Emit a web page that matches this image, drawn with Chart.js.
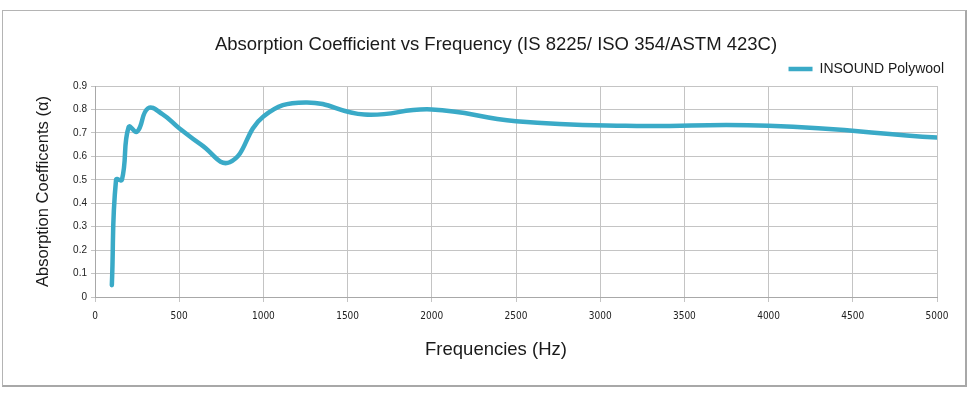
<!DOCTYPE html>
<html>
<head>
<meta charset="utf-8">
<script src="https://cdn.jsdelivr.net/npm/chart.js@4"></script>
<style>
html,body{margin:0;padding:0;background:#fff;}
#wrap{position:relative;width:975px;height:399px;overflow:hidden;}
#frame{position:absolute;left:2px;top:10px;width:965px;height:377px;box-sizing:border-box;border:1px solid #b4b4b4;border-right:2px solid #a8a8a8;border-bottom:2px solid #a8a8a8;}
canvas{position:absolute;left:0;top:0;}
</style>
</head>
<body>
<div id="wrap"><div id="frame"></div><canvas id="c" width="975" height="399"></canvas></div>
<script>
// ---- data ----
const frequencies = [100, 125, 160, 200, 250, 315, 400, 500, 630, 800, 1000, 1250, 1600, 2000, 2500, 3150, 4000, 5000];
const absorption  = [0.05, 0.50, 0.50, 0.725, 0.705, 0.805, 0.78, 0.72, 0.65, 0.575, 0.77, 0.83, 0.778, 0.80, 0.75, 0.73, 0.73, 0.68];
const seriesName = 'INSOUND Polywool';
const xTickValues = [0, 500, 1000, 1500, 2000, 2500, 3000, 3500, 4000, 4500, 5000];
const yTickValues = [0, 0.1, 0.2, 0.3, 0.4, 0.5, 0.6, 0.7, 0.8, 0.9];
const chartTitle = 'Absorption Coefficient vs Frequency (IS 8225/ ISO 354/ASTM 423C)';
const xTitle = 'Frequencies (Hz)';
const yTitle = 'Absorption Coefficents (\u03b1)';

const points = frequencies.map((f, i) => ({x: f, y: absorption[i]}));
const SANS = '"Liberation Sans", Arial, Helvetica, sans-serif';
const NARROW = '"Liberation Sans Narrow", "DejaVu Sans Condensed", "Liberation Sans", sans-serif';
const lineColor = '#3aaac7';
const gridColor = '#c4c4c4';

new Chart(document.getElementById('c'), {
  type: 'line',
  data: {
    datasets: [{
      label: seriesName,
      data: points,
      borderColor: lineColor,
      backgroundColor: lineColor,
      borderWidth: 4.5,
      borderCapStyle: 'round',
      borderJoinStyle: 'round',
      pointRadius: 0,
      pointHoverRadius: 0,
      tension: 0.45,
      fill: false
    }]
  },
  options: {
    responsive: false,
    animation: false,
    devicePixelRatio: 1,
    layout: { padding: { top: 0, right: 0, bottom: 0, left: 17 } },
    plugins: {
      title: {
        display: true,
        text: chartTitle,
        color: '#1a1a1a',
        font: { family: SANS, size: 18.5, weight: 'normal', lineHeight: 1.2 },
        padding: { top: 33.9, bottom: -25.1 }
      },
      subtitle: {
        display: true,
        position: 'bottom',
        text: xTitle,
        color: '#1a1a1a',
        font: { family: SANS, size: 18.5, weight: 'normal', lineHeight: 1.2 },
        padding: { top: 0, bottom: 37.9 }
      },
      legend: {
        display: true,
        position: 'top',
        align: 'end',
        labels: {
          color: '#1a1a1a',
          font: { family: SANS, size: 14 },
          usePointStyle: true,
          pointStyle: 'line',
          pointStyleWidth: 24,
          padding: 31
        }
      },
      tooltip: { enabled: false }
    },
    scales: {
      x: {
        type: 'linear',
        min: 0, max: 5000,
        afterBuildTicks: s => { s.ticks = xTickValues.map(v => ({value: v})); },
        afterFit: s => { s.height = 41.9; s.paddingRight = 38; },
        ticks: {
          color: '#222',
          font: { family: NARROW, size: 10 },
          padding: 8,
          maxRotation: 0,
          callback: v => String(v)
        },
        grid: { color: gridColor, lineWidth: 1, tickLength: 5, drawTicks: true },
        border: { color: '#a8a8a8', width: 1 }
      },
      y: {
        min: 0, max: 0.9,
        afterBuildTicks: s => { s.ticks = yTickValues.map(v => ({value: v})); },
        afterFit: s => { s.width = 78; },
        ticks: {
          color: '#222',
          font: { family: SANS, size: 10 },
          padding: 4,
          callback: v => String(v)
        },
        grid: { color: gridColor, lineWidth: 1, tickLength: 4, drawTicks: true },
        border: { color: '#a8a8a8', width: 1 },
        title: {
          display: true,
          text: yTitle,
          color: '#1a1a1a',
          font: { family: SANS, size: 16.5 },
          padding: { top: 16.4, bottom: 0 }
        }
      }
    }
  }
});
</script>
</body>
</html>
